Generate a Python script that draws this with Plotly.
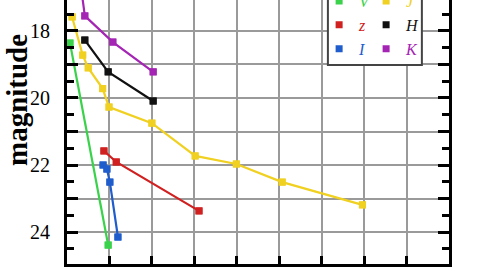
import plotly.graph_objects as go

# ---- data ----
green_x = [0.07, 0.97]
green_y = [18.36, 24.39]
yellow_x = [0.12, 0.37, 0.50, 0.84, 0.99, 2.00, 3.02, 3.99, 5.07, 6.96]
yellow_y = [17.58, 18.72, 19.10, 19.72, 20.27, 20.75, 21.73, 21.97, 22.51, 23.19]
black_x = [0.42, 0.97, 2.03]
black_y = [18.27, 19.22, 20.09]
purple_x = [0.30, 0.42, 1.08, 2.03]
purple_y = [16.40, 17.55, 18.33, 19.22]
red_x = [0.87, 1.16, 3.11]
red_y = [21.58, 21.91, 23.37]
blue_x = [0.85, 0.94, 1.01, 1.20]
blue_y = [22.00, 22.12, 22.51, 24.15]

y_tickvals = [17, 18, 19, 20, 21, 22, 23, 24, 25]
y_ticktext = ["", "18", "", "20", "", "22", "", "24", ""]

# (name, x, y, colour, legend column)
series = [
    ("V", green_x, green_y, "#3ad24a", "legend"),
    ("J", yellow_x, yellow_y, "#f0d020", "legend2"),
    ("z", red_x, red_y, "#d02020", "legend"),
    ("H", black_x, black_y, "#111111", "legend2"),
    ("I", blue_x, blue_y, "#1f5ccc", "legend"),
    ("K", purple_x, purple_y, "#a424b4", "legend2"),
]

fig = go.Figure()
for name, xs, ys, col, lg in series:
    fig.add_trace(go.Scatter(
        x=xs, y=ys, mode="lines+markers",
        line=dict(color=col, width=2.2),
        marker=dict(symbol="square", size=7, color=col),
        showlegend=False, hoverinfo="skip",
    ))
for name, xs, ys, col, lg in series:
    fig.add_trace(go.Scatter(
        x=xs, y=ys, mode="markers",
        marker=dict(symbol="square", size=7, color=col),
        name=f"<i><span style='color:{col}'>{name}</span></i>",
        showlegend=True, legend=lg, legendgroup=name,
    ))

serif = "Liberation Serif"
leg_common = dict(
    orientation="v", yanchor="top", y=1.06, xanchor="left",
    bgcolor="rgba(0,0,0,0)", borderwidth=0, tracegroupgap=1,
    font=dict(family=serif, size=16), itemwidth=30, traceorder="normal",
)
fig.update_layout(
    width=480, height=270,
    margin=dict(l=67, r=31, t=0, b=6, autoexpand=False),
    paper_bgcolor="white", plot_bgcolor="white",
    font=dict(family=serif, color="black"),
    showlegend=True,
    legend=dict(x=0.66, **leg_common),
    legend2=dict(x=0.783, **leg_common),
    shapes=[dict(
        type="rect", xref="paper", yref="paper",
        x0=0.683, x1=0.929, y0=0.754, y1=1.2,
        line=dict(color="#444444", width=2), fillcolor="white", layer="above",
    )],
    xaxis=dict(
        range=[0, 9], dtick=1, showgrid=True, gridcolor="#9a9a9a", gridwidth=1.5,
        showline=True, linecolor="black", linewidth=3, mirror=False,
        ticks="inside", ticklen=8, tickwidth=2.5, tickcolor="black",
        showticklabels=False, zeroline=False,
    ),
    yaxis=dict(
        range=[24.955, 17.075], tickmode="array", tickvals=y_tickvals, ticktext=y_ticktext,
        showgrid=True, gridcolor="#9a9a9a", gridwidth=1.5,
        showline=True, linecolor="black", linewidth=3, mirror="ticks",
        ticks="inside", ticklen=11, tickwidth=2.5, tickcolor="black",
        minor=dict(dtick=0.5, ticks="inside", ticklen=7, tickwidth=2.5, tickcolor="black", showgrid=False),
        tickfont=dict(family=serif, size=20, color="black"), ticklabelstandoff=10,
        zeroline=False,
    ),
    annotations=[dict(
        text="<b>magnitude</b>", xref="paper", yref="paper",
        x=-0.131, y=0.621, xanchor="center", yanchor="middle", textangle=-90,
        showarrow=False, font=dict(family=serif, size=29, color="black"),
    )],
)

fig.write_html("out.html")
